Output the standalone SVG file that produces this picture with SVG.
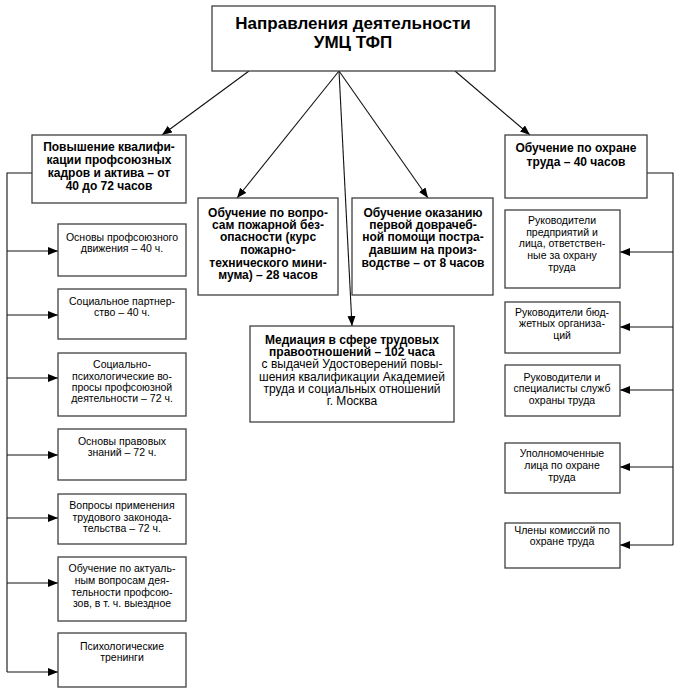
<svg xmlns="http://www.w3.org/2000/svg" width="680" height="700" viewBox="0 0 680 700">
<style>
.box{fill:#fff;stroke:#404040;stroke-width:1.3}
.ln{fill:none;stroke:#111;stroke-width:1.1}
text{font-family:"Liberation Sans",Arial,sans-serif;fill:#000;text-anchor:middle}
.t{font-size:17px;font-weight:bold}
.h{font-size:12px;font-weight:bold}
.r{font-size:12px}
.s{font-size:10.5px}
</style>
<defs>
<marker id="ar" markerUnits="userSpaceOnUse" markerWidth="10" markerHeight="8" refX="10" refY="4" orient="auto">
<path d="M0,0 L10,4 L0,8 Z" fill="#000"/>
</marker>
</defs>
<rect width="680" height="700" fill="#fff"/>
<g id="connectors">
<line class="ln" x1="249" y1="71" x2="162" y2="135" marker-end="url(#ar)"/>
<line class="ln" x1="339" y1="71" x2="237" y2="198" marker-end="url(#ar)"/>
<line class="ln" x1="339" y1="71" x2="352" y2="326" marker-end="url(#ar)"/>
<line class="ln" x1="339" y1="71" x2="428" y2="198" marker-end="url(#ar)"/>
<line class="ln" x1="455" y1="71" x2="530" y2="135" marker-end="url(#ar)"/>
<polyline class="ln" points="32,173 7,173 7,672"/>
<line class="ln" x1="7" y1="251" x2="58" y2="251" marker-end="url(#ar)"/>
<line class="ln" x1="7" y1="315" x2="58" y2="315" marker-end="url(#ar)"/>
<line class="ln" x1="7" y1="378" x2="58" y2="378" marker-end="url(#ar)"/>
<line class="ln" x1="7" y1="455" x2="58" y2="455" marker-end="url(#ar)"/>
<line class="ln" x1="7" y1="518" x2="58" y2="518" marker-end="url(#ar)"/>
<line class="ln" x1="7" y1="583" x2="58" y2="583" marker-end="url(#ar)"/>
<line class="ln" x1="7" y1="672" x2="58" y2="672" marker-end="url(#ar)"/>
<polyline class="ln" points="647,173 673,173 673,545"/>
<line class="ln" x1="673" y1="252" x2="620" y2="252" marker-end="url(#ar)"/>
<line class="ln" x1="673" y1="327" x2="620" y2="327" marker-end="url(#ar)"/>
<line class="ln" x1="673" y1="390" x2="620" y2="390" marker-end="url(#ar)"/>
<line class="ln" x1="673" y1="467" x2="620" y2="467" marker-end="url(#ar)"/>
<line class="ln" x1="673" y1="545" x2="620" y2="545" marker-end="url(#ar)"/>
</g>
<g id="title">
<rect class="box" x="212" y="6" width="283" height="65"/>
<text class="t" x="353" y="29">Направления деятельности</text>
<text class="t" x="353" y="48">УМЦ ТФП</text>
</g>
<g id="left-main">
<rect class="box" x="32" y="135" width="154" height="68"/>
<text class="h" x="109" y="151">Повышение квалифи-</text>
<text class="h" x="109" y="164">кации профсоюзных</text>
<text class="h" x="109" y="177">кадров и актива – от</text>
<text class="h" x="109" y="190">40 до 72 часов</text>
</g>
<g id="fire">
<rect class="box" x="198" y="198" width="140" height="97"/>
<text class="h" x="268" y="217">Обучение по вопро-</text>
<text class="h" x="268" y="229">сам пожарной без-</text>
<text class="h" x="268" y="241">опасности (курс</text>
<text class="h" x="268" y="254">пожарно-</text>
<text class="h" x="268" y="267">технического мини-</text>
<text class="h" x="268" y="279">мума) – 28 часов</text>
</g>
<g id="firstaid">
<rect class="box" x="352" y="198" width="141" height="97"/>
<text class="h" x="423" y="217">Обучение оказанию</text>
<text class="h" x="423" y="229">первой доврачеб-</text>
<text class="h" x="423" y="241">ной помощи постра-</text>
<text class="h" x="423" y="254">давшим на произ-</text>
<text class="h" x="423" y="267">водстве – от 8 часов</text>
</g>
<g id="mediation">
<rect class="box" x="250" y="326" width="204" height="96"/>
<text class="h" x="352" y="344">Медиация в сфере трудовых</text>
<text class="h" x="352" y="356">правоотношений – 102 часа</text>
<text class="r" x="352" y="368">с выдачей Удостоверений повы-</text>
<text class="r" x="352" y="381">шения квалификации Академией</text>
<text class="r" x="352" y="393">труда и социальных отношений</text>
<text class="r" x="352" y="405">г. Москва</text>
</g>
<g id="right-main">
<rect class="box" x="505" y="135" width="142" height="63"/>
<text class="h" x="576" y="152">Обучение по охране</text>
<text class="h" x="576" y="166">труда – 40 часов</text>
</g>
<g id="l1">
<rect class="box" x="58" y="224" width="128" height="52"/>
<text class="s" x="122" y="241">Основы профсоюзного</text>
<text class="s" x="122" y="252">движения – 40 ч.</text>
</g>
<g id="l2">
<rect class="box" x="58" y="289" width="128" height="50"/>
<text class="s" x="122" y="305">Социальное партнер-</text>
<text class="s" x="122" y="316">ство – 40 ч.</text>
</g>
<g id="l3">
<rect class="box" x="58" y="353" width="128" height="63"/>
<text class="s" x="122" y="368">Социально-</text>
<text class="s" x="122" y="380">психологические во-</text>
<text class="s" x="122" y="391">просы профсоюзной</text>
<text class="s" x="122" y="402">деятельности – 72 ч.</text>
</g>
<g id="l4">
<rect class="box" x="58" y="429" width="128" height="51"/>
<text class="s" x="122" y="445">Основы правовых</text>
<text class="s" x="122" y="456">знаний – 72 ч.</text>
</g>
<g id="l5">
<rect class="box" x="58" y="494" width="128" height="50"/>
<text class="s" x="122" y="509">Вопросы применения</text>
<text class="s" x="122" y="521">трудового законода-</text>
<text class="s" x="122" y="532">тельства – 72 ч.</text>
</g>
<g id="l6">
<rect class="box" x="58" y="557" width="128" height="64"/>
<text class="s" x="122" y="572">Обучение по актуаль-</text>
<text class="s" x="122" y="584">ным вопросам дея-</text>
<text class="s" x="122" y="596">тельности профсою-</text>
<text class="s" x="122" y="607">зов, в т. ч. выездное</text>
</g>
<g id="l7">
<rect class="box" x="58" y="633" width="128" height="54"/>
<text class="s" x="122" y="650">Психологические</text>
<text class="s" x="122" y="661">тренинги</text>
</g>
<g id="r1">
<rect class="box" x="505" y="210" width="115" height="78"/>
<text class="s" x="562" y="224">Руководители</text>
<text class="s" x="562" y="236">предприятий и</text>
<text class="s" x="562" y="247">лица, ответствен-</text>
<text class="s" x="562" y="259">ные за охрану</text>
<text class="s" x="562" y="271">труда</text>
</g>
<g id="r2">
<rect class="box" x="505" y="302" width="115" height="51"/>
<text class="s" x="562" y="316">Руководители бюд-</text>
<text class="s" x="562" y="327">жетных организа-</text>
<text class="s" x="562" y="339">ций</text>
</g>
<g id="r3">
<rect class="box" x="505" y="365" width="115" height="51"/>
<text class="s" x="562" y="381">Руководители и</text>
<text class="s" x="562" y="392">специалисты служб</text>
<text class="s" x="562" y="404">охраны труда</text>
</g>
<g id="r4">
<rect class="box" x="505" y="443" width="115" height="50"/>
<text class="s" x="562" y="457">Уполномоченные</text>
<text class="s" x="562" y="469">лица по охране</text>
<text class="s" x="562" y="481">труда</text>
</g>
<g id="r5">
<rect class="box" x="505" y="523" width="115" height="45"/>
<text class="s" x="562" y="534">Члены комиссий по</text>
<text class="s" x="562" y="545">охране труда</text>
</g>
</svg>
